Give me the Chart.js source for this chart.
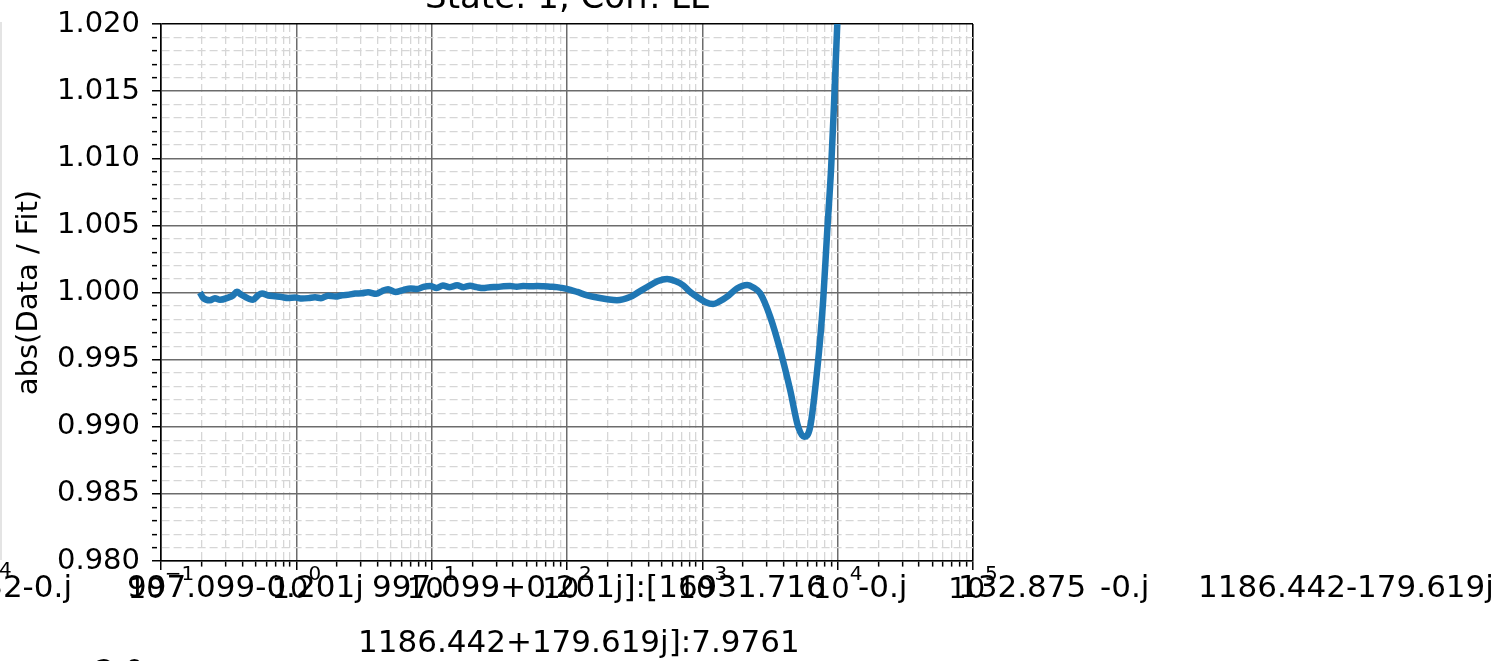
<!DOCTYPE html>
<html>
<head>
<meta charset="utf-8">
<script src="https://cdn.jsdelivr.net/npm/chart.js@4.4.0/dist/chart.umd.min.js"></script>
<style>
  html, body { margin: 0; padding: 0; background: #fff; overflow: hidden; }
  canvas { display: block; }
</style>
</head>
<body>
<canvas id="fitChart" width="1503" height="661"></canvas>
<script>
const FONT = '"DejaVu Sans", sans-serif';

// --- data ---
const chartTitle = 'State: 1, Corr. LL';
const yAxisLabel = 'abs(Data / Fit)';

const freq = [
  0.194, 0.205, 0.230, 0.250, 0.273, 0.313, 0.340, 0.364, 0.390, 0.418,
  0.450, 0.479, 0.520, 0.558, 0.620, 0.696, 0.780, 0.868, 0.980, 1.10,
  1.23, 1.375, 1.52, 1.715, 1.95, 2.18, 2.45, 2.72, 3.05, 3.39,
  3.90, 4.30, 4.76, 5.40, 6.15, 7.00, 7.80, 8.70, 9.73, 10.9,
  12.1, 13.6, 15.4, 17.2, 19.2, 21.5, 24.0, 27.0, 30.4, 34.0,
  38.0, 42.5, 47.4, 53.5, 60.1, 67, 75, 84, 93.6, 106,
  119, 141, 156, 198, 234, 292, 340, 391, 470, 549,
  630, 721, 810, 916, 1050, 1202, 1350, 1525, 1800, 2143,
  2400, 2675, 3170, 3758, 4456, 5106, 5653, 6266, 7020, 7500,
  7816, 8356, 8954, 9426, 9935, 10800
];

const ratio = [
  1.00000, 0.99960, 0.99942, 0.99958, 0.99946, 0.99962, 0.99978, 1.00006, 0.99985, 0.99968,
  0.99952, 0.99946, 0.99978, 0.99993, 0.99978, 0.99972, 0.99966, 0.99959, 0.99962, 0.99955,
  0.99958, 0.99964, 0.99958, 0.99976, 0.99970, 0.99980, 0.99984, 0.99992, 0.99994, 1.00002,
  0.99990, 1.00010, 1.00024, 1.00004, 1.00018, 1.00030, 1.00026, 1.00042, 1.00048, 1.00034,
  1.00052, 1.00040, 1.00054, 1.00040, 1.00050, 1.00040, 1.00033, 1.00040, 1.00041, 1.00046,
  1.00048, 1.00043, 1.00049, 1.00046, 1.00048, 1.00046, 1.00043, 1.00040, 1.00033, 1.00020,
  1.00004, 0.99979, 0.99968, 0.99950, 0.99942, 0.99966, 1.00005, 1.00041, 1.00085, 1.00101,
  1.00085, 1.00054, 1.00005, 0.99966, 0.99930, 0.99914, 0.99935, 0.99969, 1.00030, 1.00056,
  1.00035, 0.99994, 0.99820, 0.99572, 0.99274, 0.99000, 0.98926, 0.99000, 0.99400, 0.99705,
  0.99944, 1.00443, 1.00935, 1.01434, 1.02000, 1.03000
];

const yMajorTicks = [0.980, 0.985, 0.990, 0.995, 1.000, 1.005, 1.010, 1.015, 1.020];
const xDecades = [0.1, 1, 10, 100, 1000, 10000, 100000];

// stray text spilling in from neighbouring subplots
const strayLine1 = ['32-0.j', '997.099-0.201j', '997.099+0.201j]:[16931.716', '-0.j', '132.875', '-0.j', '1186.442-179.619j'];
const strayLine2 = ['1186.442+179.619j]:7.9761'];

// --- tick lists (major + minor) ---
function buildYTicks() {
  const out = [];
  yMajorTicks.forEach((v, i) => {
    out.push({ value: v, major: true });
    if (i < yMajorTicks.length - 1) {
      const step = (yMajorTicks[i + 1] - v) / 5;
      for (let k = 1; k < 5; k++) out.push({ value: +(v + k * step).toFixed(4), major: false });
    }
  });
  return out;
}

function buildXTicks() {
  const out = [];
  xDecades.forEach((d, i) => {
    out.push({ value: d, major: true });
    if (i < xDecades.length - 1) {
      for (let m = 2; m <= 9; m++) out.push({ value: d * m, major: false });
    }
  });
  return out;
}

const isMinor = c => c.tick && !c.tick.major;
const isEdge = (c, edge) => c.tick && Math.abs(c.tick.value - edge) < edge * 1e-9;

function gridColor(edge) {
  return c => isEdge(c, edge) ? '#000' : (isMinor(c) ? '#d6d6d6' : '#6c6c6c');
}
function gridWidth(edge) {
  return c => isEdge(c, edge) ? 1.6 : (isMinor(c) ? 1.3 : 1.5);
}

// --- plugins ---
const titlePlugin = {
  id: 'cutTitle',
  afterDraw(chart) {
    const { ctx, chartArea } = chart;
    ctx.save();
    ctx.font = `34px ${FONT}`;
    ctx.fillStyle = '#000';
    ctx.textAlign = 'center';
    ctx.textBaseline = 'alphabetic';
    ctx.fillText(chartTitle, (chartArea.left + chartArea.right) / 2, 8);
    ctx.restore();
  }
};

// log tick labels like 10^-1 with a raised exponent
const powerLabels = {
  id: 'powerLabels',
  afterDraw(chart) {
    const { ctx } = chart;
    const xs = chart.scales.x;
    ctx.save();
    ctx.fillStyle = '#000';
    ctx.textBaseline = 'alphabetic';
    ctx.textAlign = 'left';
    xs.ticks.filter(t => t.major).forEach(t => {
      const exp = Math.round(Math.log10(t.value));
      const supText = exp < 0 ? '\u2212' + Math.abs(exp) : String(exp);
      ctx.font = `29px ${FONT}`;
      const wb = ctx.measureText('10').width;
      ctx.font = `20px ${FONT}`;
      const ws = ctx.measureText(supText).width;
      const x0 = xs.getPixelForValue(t.value) - (wb + ws) / 2;
      ctx.font = `29px ${FONT}`;
      ctx.fillText('10', x0, 598);
      ctx.font = `20px ${FONT}`;
      ctx.fillText(supText, x0 + wb, 580);
    });
    ctx.restore();
  }
};

const strayText = {
  id: 'strayText',
  beforeDraw(chart) {
    const { ctx } = chart;
    ctx.save();
    ctx.strokeStyle = '#e4e4e4';
    ctx.lineWidth = 2;
    ctx.beginPath();
    ctx.moveTo(1, 22);
    ctx.lineTo(1, 560);
    ctx.stroke();
    ctx.restore();
  },
  afterDraw(chart) {
    const { ctx } = chart;
    ctx.save();
    ctx.fillStyle = '#000';
    ctx.textBaseline = 'alphabetic';
    ctx.font = `31px ${FONT}`;
    ctx.textAlign = 'right';
    ctx.fillText(strayLine1[0], 72, 597);
    ctx.textAlign = 'left';
    const starts = [127, 372, 858, 958, 1100, 1198];
    for (let i = 1; i < strayLine1.length; i++) ctx.fillText(strayLine1[i], starts[i - 1], 597);
    ctx.fillText(strayLine2[0], 358, 652);
    ctx.fillText('2.0', 95, 681);
    ctx.font = `20px ${FONT}`;
    ctx.fillText('4', -1, 576);
    ctx.restore();
  }
};

new Chart(document.getElementById('fitChart'), {
  type: 'line',
  data: {
    datasets: [{
      data: freq.map((f, i) => ({ x: f, y: ratio[i] })),
      borderColor: '#1f77b4',
      borderWidth: 6.5,
      pointRadius: 0,
      cubicInterpolationMode: 'monotone',
      borderJoinStyle: 'round',
      fill: false
    }]
  },
  options: {
    responsive: false,
    animation: false,
    devicePixelRatio: 1,
    layout: { padding: { left: 0, top: 24, right: 530, bottom: 0 } },
    plugins: { legend: { display: false }, tooltip: { enabled: false } },
    scales: {
      x: {
        type: 'logarithmic',
        min: 0.1,
        max: 100000,
        afterBuildTicks: s => { s.ticks = buildXTicks(); },
        afterFit: s => { s.height = 100; s.paddingLeft = 0; s.paddingRight = 0; },
        ticks: { autoSkip: false, maxRotation: 0, callback: () => '' },
        grid: {
          color: gridColor(100000),
          lineWidth: gridWidth(100000),
          tickLength: 9,
          tickColor: '#000',
          tickWidth: 1.5,
          tickBorderDash: c => isMinor(c) ? [5, 40] : []
        },
        border: { display: true, color: '#000', width: 1.6, dash: c => isMinor(c) ? [8, 4] : [] }
      },
      y: {
        type: 'linear',
        min: 0.98,
        max: 1.02,
        afterBuildTicks: s => { s.ticks = buildYTicks(); },
        afterFit: s => { s.width = 161; s.paddingTop = 0; s.paddingBottom = 0; },
        ticks: {
          autoSkip: false,
          padding: 12,
          color: '#000',
          font: { family: FONT, size: 29 },
          callback: (v, i, ticks) => ticks[i].major ? v.toFixed(3) : ''
        },
        title: {
          display: true,
          text: yAxisLabel,
          color: '#000',
          font: { family: FONT, size: 29 },
          padding: { top: 12, bottom: 0 }
        },
        grid: {
          color: gridColor(1.02),
          lineWidth: gridWidth(1.02),
          tickLength: 9,
          tickColor: '#000',
          tickWidth: 1.5,
          tickBorderDash: c => isMinor(c) ? [5, 40] : []
        },
        border: { display: true, color: '#000', width: 1.6, dash: c => isMinor(c) ? [8, 4] : [] }
      }
    }
  },
  plugins: [titlePlugin, powerLabels, strayText]
});
</script>
</body>
</html>
